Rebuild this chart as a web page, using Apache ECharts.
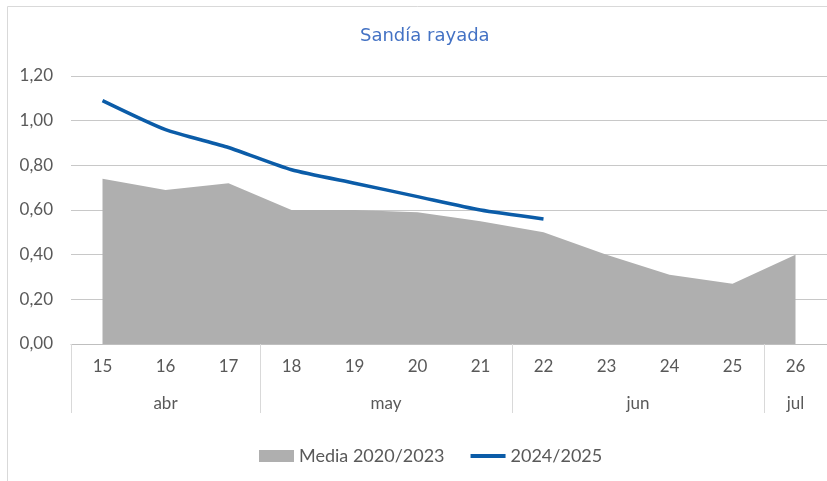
<!DOCTYPE html>
<html>
<head>
<meta charset="utf-8">
<script src="https://cdn.jsdelivr.net/npm/echarts@6/dist/echarts.min.js"></script>
<style>
  html, body { margin: 0; padding: 0; background: #fff; }
  #main { width: 827px; height: 481px; }
</style>
</head>
<body>
<div id="main"></div>
<script>
const days = ['15', '16', '17', '18', '19', '20', '21', '22', '23', '24', '25', '26'];
const months = ['abr', 'abr', 'abr', 'may', 'may', 'may', 'may', 'jun', 'jun', 'jun', 'jun', 'jul'];
const media = [0.74, 0.69, 0.72, 0.60, 0.60, 0.59, 0.55, 0.50, 0.40, 0.31, 0.27, 0.40];
const current = [1.09, 0.96, 0.88, 0.78, 0.72, 0.66, 0.60, 0.56];

const font = 'Lato';
const textColor = '#595959';

// month groups -> labels on a half-step axis (2 slots per day, plus the end)
const groups = [];
months.forEach((m, i) => {
  const last = groups[groups.length - 1];
  if (last && last.name === m) last.count++;
  else groups.push({ name: m, start: i, count: 1 });
});
const monthSlots = new Array(days.length * 2 + 1).fill('');
const monthEdges = new Set([days.length * 2]);
groups.forEach(g => {
  monthSlots[g.start * 2 + g.count] = g.name;
  monthEdges.add(g.start * 2);
});

const chart = echarts.init(document.getElementById('main'));

const option = {
  animation: false,
  textStyle: { fontFamily: font },
  title: {
    text: 'Sandía rayada',
    left: 355,
    top: 22,
    textStyle: { color: '#4472c4', fontSize: 18, fontWeight: 'normal', fontFamily: 'DejaVu Sans' }
  },
  graphic: [{
    type: 'rect',
    silent: true,
    z: -10,
    shape: { x: 7.5, y: 6.5, width: 900, height: 600 },
    style: { fill: 'none', stroke: '#d9d9d9', lineWidth: 1 }
  }],
  legend: {
    bottom: 11,
    left: 254,
    itemWidth: 35,
    itemHeight: 12,
    itemGap: 26,
    textStyle: { color: textColor, fontSize: 18, fontFamily: font },
    data: [
      { name: 'Media 2020/2023', icon: 'rect' },
      { name: '2024/2025', icon: 'path://M0,0 L35,0 L35,4 L0,4 Z' }
    ]
  },
  grid: { left: 71, width: 756, top: 76, bottom: 137, outerBoundsMode: 'none' },
  xAxis: [
    {
      type: 'category',
      position: 'bottom',
      data: days,
      boundaryGap: true,
      axisLine: { lineStyle: { color: '#bfbfbf', width: 1 } },
      axisTick: { interval: 0, length: 34, lineStyle: { color: '#d9d9d9' } },
      axisLabel: { interval: 0, margin: 14, color: textColor, fontSize: 17, fontFamily: font }
    },
    {
      type: 'category',
      position: 'bottom',
      data: monthSlots,
      boundaryGap: false,
      axisLine: { show: false },
      axisTick: { interval: (i) => monthEdges.has(i), length: 69, lineStyle: { color: '#d9d9d9' } },
      axisLabel: { interval: 0, margin: 51, color: textColor, fontSize: 17, fontFamily: font }
    },
    {
      type: 'category',
      position: 'bottom',
      data: days,
      boundaryGap: true,
      axisLine: { show: false },
      axisTick: { alignWithLabel: true, interval: 0, length: 4, lineStyle: { color: '#d9d9d9' } },
      axisLabel: { show: false }
    }
  ],
  yAxis: {
    type: 'value',
    min: 0,
    max: 1.2,
    interval: 0.2,
    axisLine: { show: false },
    axisTick: { show: false },
    splitLine: { lineStyle: { color: '#c8c8c8', width: 1 } },
    axisLabel: {
      margin: 18,
      color: textColor,
      fontSize: 17,
      fontFamily: font,
      formatter: v => v.toFixed(2).replace('.', ',')
    }
  },
  series: [
    {
      name: 'Media 2020/2023',
      type: 'line',
      data: media,
      symbol: 'none',
      lineStyle: { width: 0 },
      itemStyle: { color: '#afafaf' },
      areaStyle: { color: '#afafaf', opacity: 1 },
      z: 1
    },
    {
      name: '2024/2025',
      type: 'line',
      data: current,
      symbol: 'none',
      smooth: 0.2,
      lineStyle: { width: 3.5, color: '#0b5ca8' },
      itemStyle: { color: '#0b5ca8' },
      z: 3
    }
  ]
};

chart.setOption(option);
</script>
</body>
</html>
